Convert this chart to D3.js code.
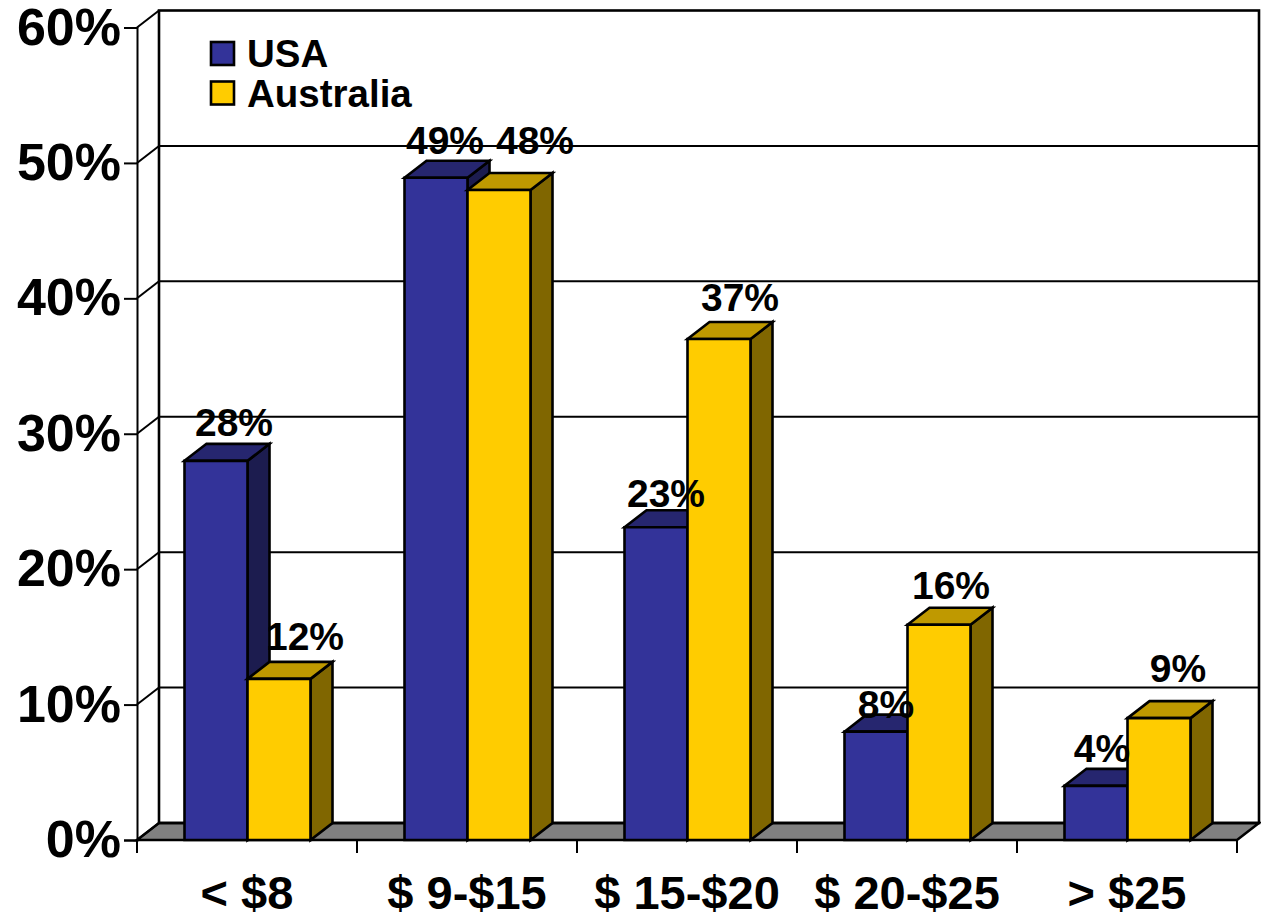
<!DOCTYPE html>
<html>
<head>
<meta charset="utf-8">
<script src="https://cdn.jsdelivr.net/npm/d3@7"></script>
<style>
  html, body { margin: 0; background: #fff; }
  text { font-family: "Liberation Sans", Arial, sans-serif; font-weight: bold; fill: #000; font-kerning: none; }
</style>
</head>
<body>
<svg id="graph" width="1261" height="914"></svg>
<script>
const categories = ["< $8", "$ 9-$15", "$ 15-$20", "$ 20-$25", "> $25"];
const seriesNames = ["USA", "Australia"];
const usa = [28, 48.9, 23.1, 8, 4];
const australia = [11.9, 48, 37, 15.9, 9];
const usaLabels = ["28%", "49%", "23%", "8%", "4%"];
const australiaLabels = ["12%", "48%", "37%", "16%", "9%"];
const yTicks = [0, 10, 20, 30, 40, 50, 60];

const colors = {
  USA: { front: "#333399", top: "#26266f", side: "#1c1c4f" },
  Australia: { front: "#ffcc00", top: "#bf9900", side: "#806600" },
};

// the data labels were placed by hand in the original, [dx, dy] from the bar's top centre
const usaNudge = [[18, -25], [9, -24], [10, -20], [10, -14], [6, -24]];
const australiaNudge = [[26, -29], [36, -36], [21, -28], [12, -26], [19, -36]];

// depth of the fake 3d box
const dx = 22;
const dy = -17;

const svg = d3.select("#graph");

const x = d3.scaleBand().domain(categories).range([137, 1237]);
const y = d3.scaleLinear().domain([0, 60]).range([840, 27.5]);
const inner = d3.scaleBand().domain(seriesNames).range([47.5, 173.5]);

const line = d3.line();
const poly = (pts, fill, sw = 2.6) =>
  svg
    .append("path")
    .attr("d", line(pts) + "Z")
    .attr("fill", fill)
    .attr("stroke", "#000")
    .attr("stroke-width", sw)
    .attr("stroke-linejoin", "miter");

// floor
poly(
  [
    [x.range()[0], y(0)],
    [x.range()[0] + dx, y(0) + dy],
    [x.range()[1] + dx, y(0) + dy],
    [x.range()[1], y(0)],
  ],
  "#808080"
);

// back wall + gridlines
svg
  .append("g")
  .selectAll("line")
  .data(yTicks.slice(1, -1))
  .join("line")
  .attr("x1", 137 + dx)
  .attr("x2", 1237 + dx)
  .attr("y1", (d) => y(d) + dy)
  .attr("y2", (d) => y(d) + dy)
  .attr("stroke", "#000")
  .attr("stroke-width", 2);

svg
  .append("rect")
  .attr("x", 137 + dx)
  .attr("y", y(60) + dy)
  .attr("width", 1100)
  .attr("height", y(0) - y(60))
  .attr("fill", "none")
  .attr("stroke", "#000")
  .attr("stroke-width", 2.6);

// side wall slants
svg
  .append("g")
  .selectAll("line")
  .data(yTicks)
  .join("line")
  .attr("x1", 137)
  .attr("x2", 137 + dx)
  .attr("y1", (d) => y(d))
  .attr("y2", (d) => y(d) + dy)
  .attr("stroke", "#000")
  .attr("stroke-width", 2);

// axes
const yAxis = svg
  .append("g")
  .attr("transform", "translate(137,0)")
  .call(d3.axisLeft(y).tickValues(yTicks).tickFormat((d) => d + "%").tickSize(13).tickPadding(3));
const xAxis = svg
  .append("g")
  .attr("transform", "translate(0,840)")
  .call(d3.axisBottom(x).tickSize(13).tickPadding(23).tickSizeOuter(13));

// band axis puts ticks in the middle, move them to the band edges
xAxis.selectAll(".tick line").remove();
xAxis
  .selectAll("line.edge")
  .data(d3.range(categories.length + 1))
  .join("line")
  .attr("class", "edge")
  .attr("x1", (i) => 137 + i * x.step())
  .attr("x2", (i) => 137 + i * x.step())
  .attr("y1", 0)
  .attr("y2", 13)
  .attr("stroke", "#000")
  .attr("stroke-width", 2);

yAxis.selectAll("path, line").attr("stroke", "#000").attr("stroke-width", 2);
xAxis.select("path").attr("stroke", "#000").attr("stroke-width", 2).attr("d", "M137,0H1237");
yAxis.selectAll("text").attr("font-size", 52).attr("font-family", null);
xAxis.selectAll("text").attr("font-size", 47).attr("font-family", null);

function drawBar(cat, name, value) {
  const c = colors[name];
  const x0 = x(cat) + inner(name);
  const x1 = x0 + inner.bandwidth();
  const y0 = y(value);
  const y1 = y(0);
  poly([[x1, y0], [x1 + dx, y0 + dy], [x1 + dx, y1 + dy], [x1, y1]], c.side);
  poly([[x0, y0], [x0 + dx, y0 + dy], [x1 + dx, y0 + dy], [x1, y0]], c.top);
  poly([[x0, y0], [x1, y0], [x1, y1], [x0, y1]], c.front);
}

function drawLabel(cat, name, value, label, nudge) {
  svg
    .append("text")
    .attr("x", x(cat) + inner(name) + inner.bandwidth() / 2 + nudge[0])
    .attr("y", y(value) + nudge[1])
    .attr("text-anchor", "middle")
    .attr("font-size", 39)
    .text(label);
}

categories.forEach((cat, i) => {
  drawBar(cat, "USA", usa[i]);
  drawBar(cat, "Australia", australia[i]);
});

// labels go over every bar
categories.forEach((cat, i) => {
  drawLabel(cat, "USA", usa[i], usaLabels[i], usaNudge[i]);
  drawLabel(cat, "Australia", australia[i], australiaLabels[i], australiaNudge[i]);
});

// legend
const legend = svg
  .append("g")
  .selectAll("g")
  .data(seriesNames)
  .join("g")
  .attr("transform", (d, i) => `translate(211,${42 + i * 39.5})`);
legend
  .append("rect")
  .attr("width", 23)
  .attr("height", 23)
  .attr("fill", (d) => colors[d].front)
  .attr("stroke", "#000")
  .attr("stroke-width", 2.6);
legend
  .append("text")
  .attr("x", 36)
  .attr("y", 25)
  .attr("font-size", 38.5)
  .text((d) => d);
</script>
</body>
</html>
